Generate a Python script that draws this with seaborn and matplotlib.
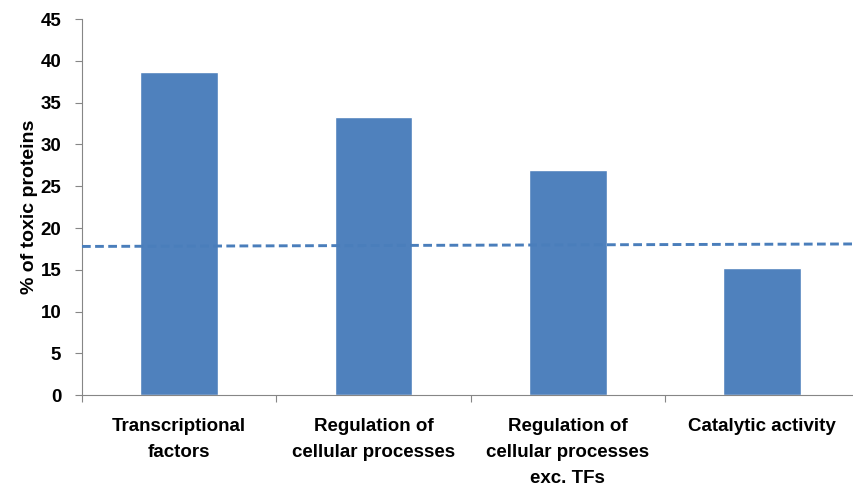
import matplotlib
matplotlib.use("Agg")
import matplotlib.pyplot as plt
from matplotlib.ticker import FixedLocator
import seaborn as sns
import pandas as pd

categories = [
    "Transcriptional\nfactors",
    "Regulation of\ncellular processes",
    "Regulation of\ncellular processes\nexc. TFs",
    "Catalytic activity",
]
toxic_pct = [38.7, 33.3, 27.0, 15.2]
baseline_pct = [17.8, 18.1]
y_ticks = list(range(0, 46, 5))

sns.set_style("white")
plt.rcParams["font.family"] = ["Liberation Sans", "DejaVu Sans"]
plt.rcParams["text.color"] = "black"
plt.rcParams["axes.labelcolor"] = "black"
plt.rcParams["xtick.labelcolor"] = "black"
plt.rcParams["ytick.labelcolor"] = "black"

df = pd.DataFrame({"category": categories, "pct": toxic_pct})

fig = plt.figure(figsize=(8.54, 4.88), dpi=100)
ax = fig.add_axes([0.096, 0.19, 0.91, 0.771])

sns.barplot(data=df, x="category", y="pct", color="#4F81BD", width=0.4,
            saturation=1, ax=ax)

ax.set_xlim(-0.5, len(categories) - 0.5)
ax.set_ylim(0, 45)

# dashed reference level spanning the full plot width
ax.plot(list(ax.get_xlim()), baseline_pct, color="#4A7EBB", lw=2.1,
        ls=(0, (3, 1.5)), clip_on=False, zorder=3)

ax.set_yticks(y_ticks)
ax.set_yticklabels([str(v) for v in y_ticks], fontsize=13.5, fontweight="bold")
ax.set_ylabel("% of toxic proteins", fontsize=14, fontweight="bold", labelpad=2)
ax.set_xlabel("")

# category boundaries as tick marks, labels centred under each bar
ax.xaxis.set_major_locator(FixedLocator([i - 0.5 for i in range(len(categories) + 1)]))
ax.xaxis.set_major_formatter(plt.NullFormatter())
ax.xaxis.set_minor_locator(FixedLocator(list(range(len(categories)))))
ax.set_xticklabels(categories, minor=True, fontsize=13.5, fontweight="bold",
                   linespacing=1.7)
ax.tick_params(axis="x", which="minor", length=0, pad=16)
ax.tick_params(axis="x", which="major", length=5, width=0.8, color="#868686",
               direction="out", bottom=True)
ax.tick_params(axis="y", length=5, width=0.8, color="#868686", direction="out",
               left=True, pad=10)

for side in ("top", "right"):
    ax.spines[side].set_visible(False)
for side in ("left", "bottom"):
    ax.spines[side].set_color("#868686")
    ax.spines[side].set_linewidth(0.8)

fig.savefig("out.png", dpi=100, facecolor="white")
